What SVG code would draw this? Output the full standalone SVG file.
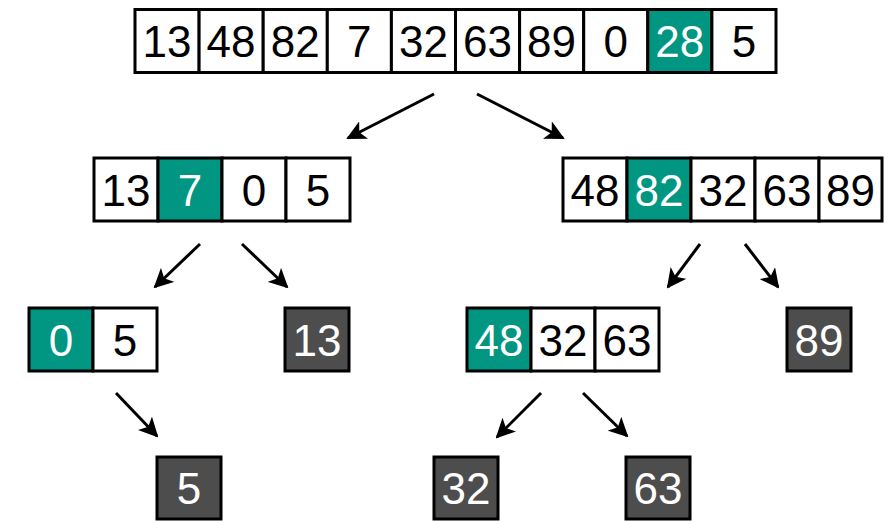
<svg xmlns="http://www.w3.org/2000/svg" width="894" height="521" viewBox="0 0 894 521">
<style>
.c{fill:#fff;stroke:#000;stroke-width:3}
.g{fill:#009682;stroke:#000;stroke-width:3}
.d{fill:#4d4d4d;stroke:#000;stroke-width:3}
text{font-family:"Liberation Sans","DejaVu Sans",sans-serif;font-size:44px;text-anchor:middle}
.w{fill:#fff}
.b{fill:#000}
.a{stroke:#000;stroke-width:3;fill:none;marker-end:url(#ah)}
</style>
<defs>
<marker id="ah" viewBox="0 0 10 10" refX="9" refY="5" markerWidth="6.5" markerHeight="6.5" orient="auto" markerUnits="strokeWidth">
<path d="M0,0 L10,5 L0,10 L2.5,5 z" fill="#000"/>
</marker>
</defs>
<rect width="894" height="521" fill="#fff"/>
<g id="root">
<rect class="c" x="135" y="9.5" width="64.1" height="63"/>
<rect class="c" x="199.1" y="9.5" width="64.1" height="63"/>
<rect class="c" x="263.2" y="9.5" width="64.1" height="63"/>
<rect class="c" x="327.3" y="9.5" width="64.1" height="63"/>
<rect class="c" x="391.4" y="9.5" width="64.1" height="63"/>
<rect class="c" x="455.5" y="9.5" width="64.1" height="63"/>
<rect class="c" x="519.6" y="9.5" width="64.1" height="63"/>
<rect class="c" x="583.7" y="9.5" width="64.1" height="63"/>
<rect class="g" x="647.8" y="9.5" width="64.1" height="63"/>
<rect class="c" x="711.9" y="9.5" width="64.1" height="63"/>
<text class="b" x="167" y="57">13</text>
<text class="b" x="231.1" y="57">48</text>
<text class="b" x="295.2" y="57">82</text>
<text class="b" x="359.3" y="57">7</text>
<text class="b" x="423.4" y="57">32</text>
<text class="b" x="487.5" y="57">63</text>
<text class="b" x="551.6" y="57">89</text>
<text class="b" x="615.7" y="57">0</text>
<text class="w" x="679.8" y="57">28</text>
<text class="b" x="743.9" y="57">5</text>
</g>
<g id="left">
<rect class="c" x="94" y="158" width="64" height="63"/>
<rect class="g" x="158" y="158" width="64" height="63"/>
<rect class="c" x="222" y="158" width="64" height="63"/>
<rect class="c" x="286" y="158" width="64" height="63"/>
<text class="b" x="126" y="205.5">13</text>
<text class="w" x="190" y="205.5">7</text>
<text class="b" x="254" y="205.5">0</text>
<text class="b" x="318" y="205.5">5</text>
</g>
<g id="right">
<rect class="c" x="563" y="158" width="64" height="63"/>
<rect class="g" x="627" y="158" width="64" height="63"/>
<rect class="c" x="691" y="158" width="64" height="63"/>
<rect class="c" x="755" y="158" width="64" height="63"/>
<rect class="c" x="819" y="158" width="63" height="63"/>
<text class="b" x="595" y="205.5">48</text>
<text class="w" x="659" y="205.5">82</text>
<text class="b" x="723" y="205.5">32</text>
<text class="b" x="787" y="205.5">63</text>
<text class="b" x="850.5" y="205.5">89</text>
</g>
<g id="ll">
<rect class="g" x="29" y="308" width="64" height="63"/>
<rect class="c" x="93" y="308" width="64" height="63"/>
<text class="w" x="61" y="355.5">0</text>
<text class="b" x="125" y="355.5">5</text>
</g>
<g id="lr">
<rect class="d" x="285" y="308" width="64" height="63"/>
<text class="w" x="317" y="355.5">13</text>
</g>
<g id="rl">
<rect class="g" x="467" y="308" width="64" height="63"/>
<rect class="c" x="531" y="308" width="64" height="63"/>
<rect class="c" x="595" y="308" width="64" height="63"/>
<text class="w" x="499" y="355.5">48</text>
<text class="b" x="563" y="355.5">32</text>
<text class="b" x="627" y="355.5">63</text>
</g>
<g id="rr">
<rect class="d" x="787" y="308" width="64" height="63"/>
<text class="w" x="819" y="355.5">89</text>
</g>
<g id="llr">
<rect class="d" x="157" y="457" width="64" height="62"/>
<text class="w" x="189" y="504">5</text>
</g>
<g id="rll">
<rect class="d" x="434" y="457" width="64" height="62"/>
<text class="w" x="466" y="504">32</text>
</g>
<g id="rlr">
<rect class="d" x="626" y="457" width="64" height="62"/>
<text class="w" x="658" y="504">63</text>
</g>
<g id="connectors">
<line class="a" x1="434" y1="94" x2="348" y2="138"/>
<line class="a" x1="477" y1="94" x2="563" y2="138"/>
<line class="a" x1="200" y1="244" x2="155" y2="287"/>
<line class="a" x1="242" y1="244" x2="287" y2="287"/>
<line class="a" x1="700" y1="244" x2="668" y2="287"/>
<line class="a" x1="745" y1="244" x2="778" y2="287"/>
<line class="a" x1="116" y1="393" x2="157" y2="436"/>
<line class="a" x1="541" y1="393" x2="497" y2="437"/>
<line class="a" x1="583" y1="393" x2="627" y2="436"/>
</g>
</svg>
